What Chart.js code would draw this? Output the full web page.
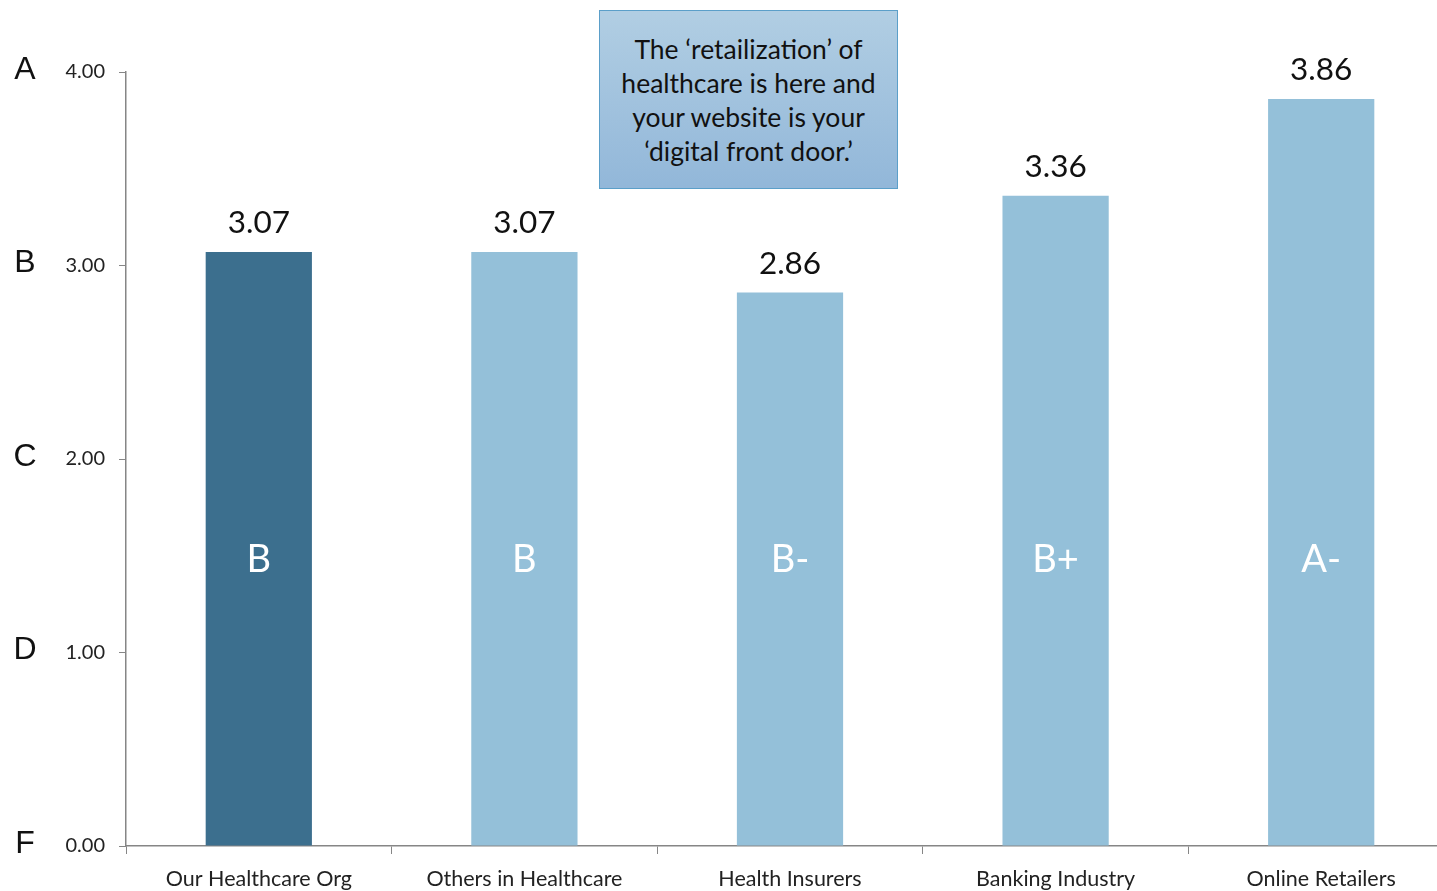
<!DOCTYPE html>
<html>
<head>
<meta charset="utf-8">
<script src="https://cdn.jsdelivr.net/npm/chart.js@4.4.1/dist/chart.umd.min.js"></script>
<style>
    body { margin: 0; overflow: hidden; background: #fff; }
    #wrap { position: relative; width: 1437px; height: 891px; overflow: hidden; }
    #callout {
        position: absolute; left: 599px; top: 10px; width: 297px; height: 177px;
        border: 1.5px solid #5b9fc9;
        background: linear-gradient(#b1cee3, #92b7d9);
        display: flex; align-items: center; justify-content: center; text-align: center;
        font-family: Lato, sans-serif; font-size: 26.5px; line-height: 34px; color: #111;
    }
</style>
</head>
<body>
<div id="wrap">
    <canvas id="chartNotas" width="1454" height="891"></canvas>
    <div id="callout">The ‘retailization’ of<br>healthcare is here and<br>your website is your<br>‘digital front door.’</div>
</div>
<script>
// Datos de la gráfica
const categorias = ['Our Healthcare Org', 'Others in Healthcare', 'Health Insurers', 'Banking Industry', 'Online Retailers'];
const puntajes = [3.07, 3.07, 2.86, 3.36, 3.86];
const notasBarras = ['B', 'B', 'B-', 'B+', 'A-'];
const coloresBarras = ['#3c6f8e', '#94c0d9', '#94c0d9', '#94c0d9', '#94c0d9'];
const valoresEje = [0, 1, 2, 3, 4];
const notasEje = ['F', 'D', 'C', 'B', 'A'];
const alturaNotaBarra = 1.48; // valor del eje donde va la letra dentro de la barra

// Plugin para etiquetas de valor, letras dentro de barras y letras del eje
const etiquetasPlugin = {
    id: 'etiquetas',
    afterDraw(chart) {
        const ctx = chart.ctx;
        const yScale = chart.scales.y;
        const meta = chart.getDatasetMeta(0);
        ctx.save();
        ctx.textAlign = 'center';

        meta.data.forEach((bar, i) => {
            ctx.fillStyle = '#111';
            ctx.font = '31.5px Lato, sans-serif';
            ctx.textBaseline = 'bottom';
            ctx.fillText(puntajes[i].toFixed(2), bar.x, bar.y - 13);

            ctx.fillStyle = '#fff';
            ctx.font = '38px Lato, sans-serif';
            ctx.textBaseline = 'middle';
            ctx.fillText(notasBarras[i], bar.x, yScale.getPixelForValue(alturaNotaBarra));
        });

        ctx.fillStyle = '#111';
        ctx.font = '32px "Liberation Sans", sans-serif';
        ctx.textBaseline = 'middle';
        valoresEje.forEach((v, i) => {
            ctx.fillText(notasEje[i], 25, yScale.getPixelForValue(v) - 2);
        });
        ctx.restore();
    }
};

const ctx = document.getElementById('chartNotas').getContext('2d');
new Chart(ctx, {
    type: 'bar',
    data: {
        labels: categorias,
        datasets: [{
            data: puntajes,
            backgroundColor: coloresBarras,
            categoryPercentage: 1,
            barPercentage: 0.4
        }]
    },
    options: {
        responsive: false,
        animation: false,
        layout: { padding: { top: 72, left: 0, right: 0, bottom: 0 } },
        plugins: {
            legend: { display: false },
            tooltip: { enabled: false }
        },
        scales: {
            x: {
                grid: { drawOnChartArea: false, tickLength: 8, color: '#868686' },
                border: { color: '#868686', width: 1.5 },
                ticks: { color: '#222', font: { family: 'Lato', size: 21.5 }, padding: 12 },
                afterFit: scale => { scale.height = 45; }
            },
            y: {
                min: 0,
                max: 4,
                grid: { drawOnChartArea: false, tickLength: 7, color: '#868686' },
                border: { color: '#868686', width: 1.5 },
                ticks: {
                    stepSize: 1,
                    color: '#222',
                    padding: 14,
                    font: { family: 'Lato', size: 20 },
                    callback: v => v.toFixed(2)
                },
                afterFit: scale => { scale.width = 126; }
            }
        }
    },
    plugins: [etiquetasPlugin]
});
</script>
</body>
</html>
